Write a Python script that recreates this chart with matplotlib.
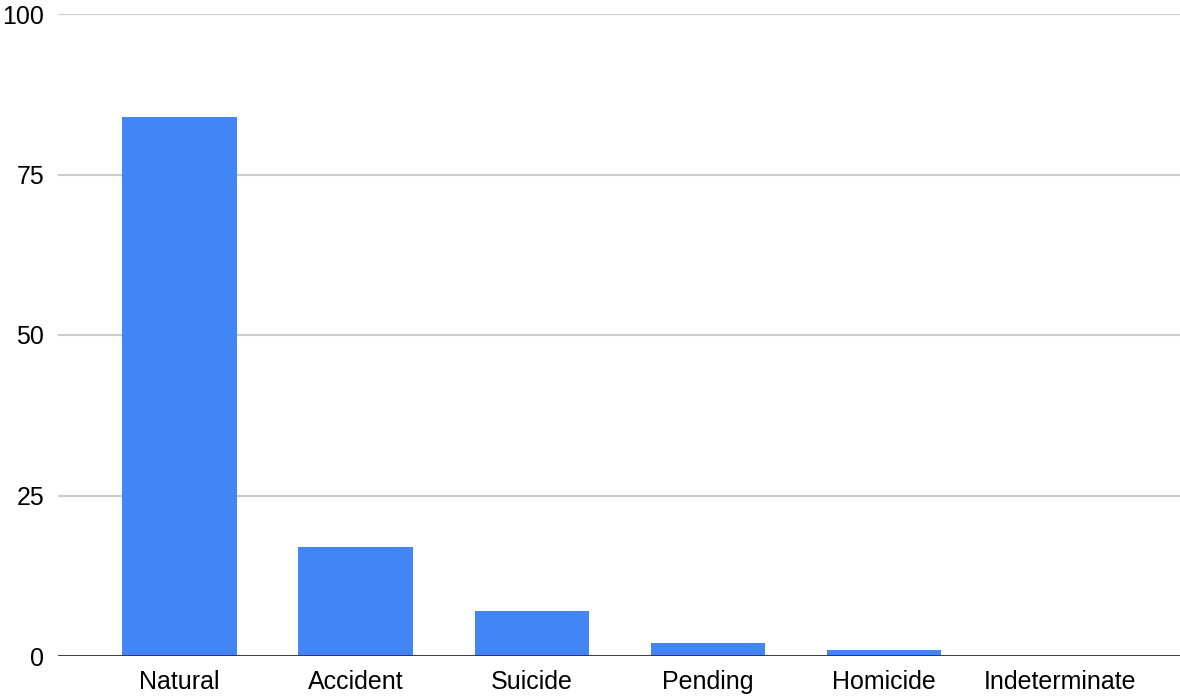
import matplotlib.pyplot as plt

categories = ["Natural", "Accident", "Suicide", "Pending", "Homicide", "Indeterminate"]
counts = [84, 17, 7, 2, 1, 0]
y_ticks = [0, 25, 50, 75, 100]

plt.rcParams['font.family'] = ['Liberation Sans', 'DejaVu Sans']

fig = plt.figure(figsize=(11.8, 6.98), dpi=100)
ax = fig.add_axes([58 / 1180, 1 - 656 / 698, 1 - 58 / 1180, (656 - 14) / 698])

x = range(len(categories))
ax.bar(x, counts, width=0.65, color="#4285F4", zorder=3)

ax.set_ylim(0, 100)
ax.set_xlim(-0.69, 5.68)
ax.set_yticks(y_ticks)
ax.set_xticks(list(x))
ax.set_xticklabels(categories)
ax.grid(axis="y", color="#cccccc", linewidth=1.5, zorder=0)
ax.axhline(0, color="#333333", linewidth=2, zorder=4)

for s in ax.spines.values():
    s.set_visible(False)
ax.tick_params(length=0, labelsize=18, colors="black")
ax.tick_params(axis="y", pad=10)
ax.tick_params(axis="x", pad=10)

fig.savefig("out.png", dpi=100)
